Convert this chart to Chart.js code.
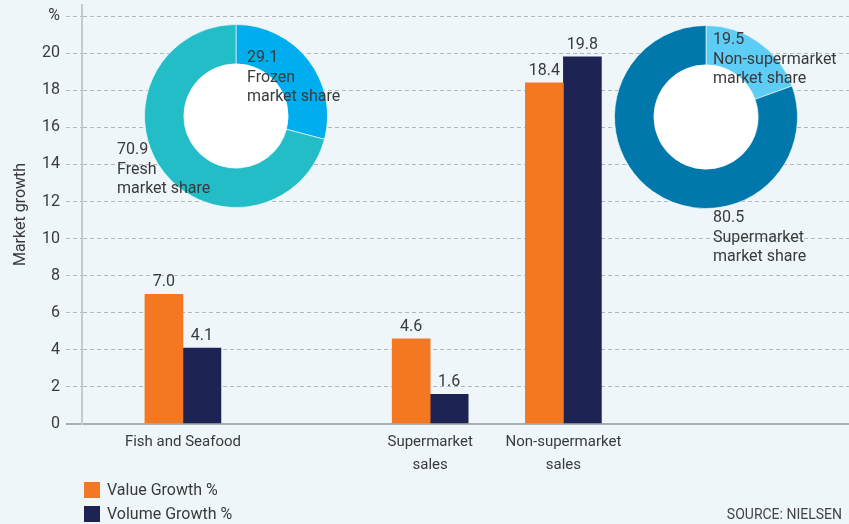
<!DOCTYPE html>
<html>
<head>
<meta charset="utf-8">
<script src="https://cdn.jsdelivr.net/npm/chart.js@4"></script>
<style>
  body { margin: 0; background: #eef6fa; }
  #wrap { position: relative; width: 849px; height: 524px; font-family: Roboto, sans-serif; color: #3a3a3a; }
  #wrap canvas { position: absolute; }
  .lbl { position: absolute; font-size: 16px; line-height: 19.5px; white-space: nowrap; }
  .key { position: absolute; left: 84px; font-size: 16px; line-height: 16px; }
  .key span { display: inline-block; width: 16px; height: 16px; vertical-align: top; margin-right: 7px; }
  #source { position: absolute; right: 7px; top: 506px; font-size: 14px; color: #444; }
</style>
</head>
<body>
<div id="wrap">
  <canvas id="bars" width="849" height="524" style="left:0;top:0"></canvas>
  <canvas id="donutFish" width="184" height="184" style="left:144px;top:24px"></canvas>
  <canvas id="donutChannel" width="184" height="184" style="left:614px;top:25px"></canvas>
  <div class="lbl" id="lblFrozen" style="left:247px;top:47px"></div>
  <div class="lbl" id="lblFresh" style="left:117px;top:139px"></div>
  <div class="lbl" id="lblNonSuper" style="left:713px;top:29px"></div>
  <div class="lbl" id="lblSuper" style="left:713px;top:207px"></div>
  <div class="key" id="key0" style="top:482px"></div>
  <div class="key" id="key1" style="top:506px"></div>
  <div id="source">SOURCE: NIELSEN</div>
</div>
<script>
// bar chart data
const categories = [['Fish and Seafood'], ['Supermarket', 'sales'], ['Non-supermarket', 'sales']];
const categoryPos = [1, 3.45, 4.77];
const seriesNames = ['Value Growth %', 'Volume Growth %'];
const valueGrowth = [7.0, 4.6, 18.4];
const volumeGrowth = [4.1, 1.6, 19.8];
const yTicks = [0, 2, 4, 6, 8, 10, 12, 14, 16, 18, 20, 22];
const yTickLabels = ['0', '2', '4', '6', '8', '10', '12', '14', '16', '18', '20', '%'];

// donut data
const fishShareLabels = [['Frozen', 'market share'], ['Fresh', 'market share']];
const fishShare = [29.1, 70.9];
const channelShareLabels = [['Non-supermarket', 'market share'], ['Supermarket', 'market share']];
const channelShare = [19.5, 80.5];

const orange = '#f47721';
const navy = '#1d2453';
const isZero = ctx => ctx.tick && ctx.tick.value === 0;

const barValueLabels = {
  id: 'barValueLabels',
  afterDatasetsDraw(chart) {
    const ctx = chart.ctx;
    ctx.save();
    ctx.font = '16px Roboto';
    ctx.fillStyle = '#3a3a3a';
    ctx.textAlign = 'center';
    ctx.textBaseline = 'bottom';
    chart.data.datasets.forEach((ds, i) => {
      chart.getDatasetMeta(i).data.forEach((bar, j) => {
        ctx.fillText(ds.data[j].y.toFixed(1), bar.x, bar.y - 4);
      });
    });
    ctx.restore();
  }
};

const barChart = new Chart(document.getElementById('bars'), {
  type: 'bar',
  data: {
    datasets: [
      { label: seriesNames[0], data: categoryPos.map((x, i) => ({ x, y: valueGrowth[i] })), backgroundColor: orange, barThickness: 38 },
      { label: seriesNames[1], data: categoryPos.map((x, i) => ({ x, y: volumeGrowth[i] })), backgroundColor: navy, barThickness: 38 }
    ]
  },
  options: {
    responsive: false,
    animation: false,
    layout: { padding: { top: 5, left: 0, right: 0, bottom: 0 } },
    plugins: { legend: { display: false }, tooltip: { enabled: false } },
    scales: {
      x: {
        type: 'linear', min: 0, max: 7.6, offset: false,
        grid: { display: false, drawTicks: false },
        border: { display: false },
        afterBuildTicks: s => { s.ticks = categoryPos.map(v => ({ value: v })); },
        afterFit: s => { s.height = 100; s.paddingLeft = 0; s.paddingRight = 0; },
        ticks: {
          autoSkip: false, maxRotation: 0, padding: 7, color: '#3a3a3a',
          font: { family: 'Roboto', size: 15, lineHeight: 1.5 },
          callback: (v, i) => categories[i]
        }
      },
      y: {
        min: 0, max: 22.6,
        afterBuildTicks: s => { s.ticks = yTicks.map(v => ({ value: v })); },
        afterFit: s => { s.width = 82; s.paddingTop = 0; s.paddingBottom = 0; },
        grid: {
          color: ctx => isZero(ctx) ? '#a9adb1' : '#b4b8bc',
          lineWidth: ctx => isZero(ctx) ? 2 : 1,
          tickLength: 16,
          tickBorderDash: ctx => isZero(ctx) ? [] : [4, 3]
        },
        border: { color: '#c6cacd', width: 2, dash: ctx => isZero(ctx) ? [] : [4, 3] },
        ticks: {
          padding: 6, color: '#3a3a3a',
          font: { family: 'Roboto', size: 16 },
          callback: (v, i) => yTickLabels[i]
        },
        title: {
          display: true, text: 'Market growth', color: '#3a3a3a',
          font: { family: 'Roboto', size: 16 }, padding: { top: 11, bottom: 0 }
        }
      }
    }
  },
  plugins: [barValueLabels]
});

// legend keys from the bar datasets
barChart.data.datasets.forEach((ds, i) => {
  document.getElementById('key' + i).innerHTML =
    '<span style="background:' + ds.backgroundColor + '"></span>' + ds.label;
});

const whiteHole = {
  id: 'whiteHole',
  beforeDatasetsDraw(chart) {
    const arc = chart.getDatasetMeta(0).data[0];
    const ctx = chart.ctx;
    ctx.save();
    ctx.beginPath();
    ctx.arc(arc.x, arc.y, arc.innerRadius, 0, Math.PI * 2);
    ctx.fillStyle = '#ffffff';
    ctx.fill();
    ctx.restore();
  }
};

function donut(id, values, colors) {
  return new Chart(document.getElementById(id), {
    type: 'doughnut',
    data: {
      datasets: [{ data: values, backgroundColor: colors, borderColor: 'rgba(255,255,255,0.6)', borderWidth: 1 }]
    },
    options: {
      responsive: false,
      animation: false,
      cutout: '57%',
      layout: { padding: 0 },
      plugins: { legend: { display: false }, tooltip: { enabled: false } }
    },
    plugins: [whiteHole]
  });
}

donut('donutFish', fishShare, ['#00adee', '#23bdc8']);
donut('donutChannel', channelShare, ['#5ecdf5', '#0078ab']);

function setLabel(id, value, lines) {
  document.getElementById(id).innerHTML = [value.toFixed(1)].concat(lines).join('<br>');
}
setLabel('lblFrozen', fishShare[0], fishShareLabels[0]);
setLabel('lblFresh', fishShare[1], fishShareLabels[1]);
setLabel('lblNonSuper', channelShare[0], channelShareLabels[0]);
setLabel('lblSuper', channelShare[1], channelShareLabels[1]);
</script>
</body>
</html>
